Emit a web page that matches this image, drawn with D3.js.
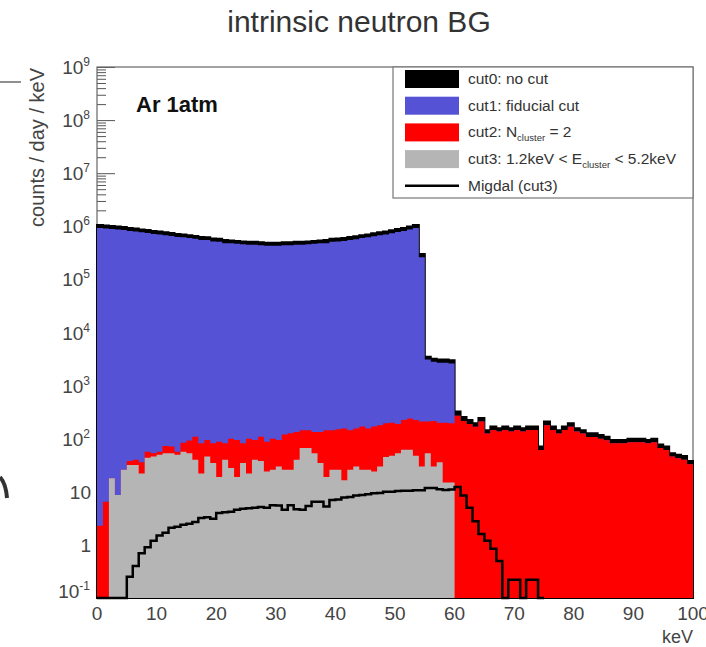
<!DOCTYPE html>
<meta charset="utf-8">
<head>
    <script src="https://d3js.org/d3.v7.min.js"></script>
    <style>
        body { margin: 0; background: white; }
        text { font-family: "Liberation Sans", Arial, Helvetica, sans-serif; }
    </style>
</head>
<body>
<div id="chart"></div>
<script>
    // 1 keV bins, 0..100 keV
    const cut0 = [1.06e6, 1.03e6, 1.01e6, 9.9e5, 9.7e5, 9.3e5, 9.1e5, 8.7e5, 8.5e5, 8.2e5,
        8.0e5, 7.7e5, 7.5e5, 7.2e5, 7.0e5, 6.8e5, 6.6e5, 6.3e5, 6.2e5, 5.9e5,
        5.8e5, 5.5e5, 5.4e5, 5.3e5, 5.2e5, 5.1e5, 5.1e5, 5.0e5, 4.9e5, 4.9e5,
        4.9e5, 5.0e5, 5.0e5, 5.1e5, 5.1e5, 5.2e5, 5.3e5, 5.4e5, 5.5e5, 5.8e5,
        5.9e5, 6.0e5, 6.3e5, 6.5e5, 6.8e5, 7.0e5, 7.4e5, 7.7e5, 8.0e5, 8.4e5,
        8.9e5, 9.3e5, 9.9e5, 1.06e6, 3.0e5, 3.5e3, 3.2e3, 3.1e3, 3.1e3, 3.0e3,
        324, 257, 224, 195, 245, 145, 170, 158, 170, 158,
        170, 158, 170, 170, 71, 210, 170, 145, 170, 195,
        158, 145, 126, 126, 117, 109, 95, 95, 95, 100,
        100, 100, 95, 100, 78, 71, 53, 50, 47, 38];

    const cut1 = [9.3e5, 9.1e5, 8.9e5, 8.7e5, 8.5e5, 8.2e5, 8.0e5, 7.7e5, 7.5e5, 7.2e5,
        7.0e5, 6.8e5, 6.6e5, 6.3e5, 6.2e5, 6.0e5, 5.8e5, 5.5e5, 5.5e5, 5.2e5,
        5.1e5, 4.8e5, 4.8e5, 4.7e5, 4.6e5, 4.5e5, 4.5e5, 4.4e5, 4.3e5, 4.3e5,
        4.3e5, 4.4e5, 4.4e5, 4.5e5, 4.5e5, 4.6e5, 4.7e5, 4.8e5, 4.8e5, 5.1e5,
        5.2e5, 5.3e5, 5.5e5, 5.7e5, 6.0e5, 6.2e5, 6.5e5, 6.8e5, 7.0e5, 7.4e5,
        7.8e5, 8.2e5, 8.7e5, 9.3e5, 2.6e5, 3.1e3, 2.8e3, 2.7e3, 2.7e3, 2.6e3,
        270, 215, 190, 168, 210, 125, 146, 136, 146, 136,
        146, 136, 146, 146, 61, 180, 146, 125, 146, 168,
        136, 125, 108, 108, 100, 94, 82, 82, 82, 86,
        86, 86, 82, 86, 67, 61, 46, 43, 40, 33];

    const cut2 = [2.3, 6.5, 18, 8.7, 26, 38, 40, 36, 57, 53,
        57, 73, 71, 57, 84, 92, 109, 82, 95, 82,
        88, 82, 100, 95, 82, 100, 95, 109, 88, 100,
        95, 120, 126, 133, 145, 145, 133, 133, 145, 145,
        150, 155, 145, 155, 170, 155, 170, 180, 195, 200,
        190, 225, 240, 225, 210, 210, 215, 200, 200, 195,
        270, 215, 190, 168, 210, 125, 146, 136, 146, 136,
        146, 136, 146, 146, 61, 180, 146, 125, 146, 168,
        136, 125, 108, 108, 100, 94, 82, 82, 82, 86,
        86, 86, 82, 86, 67, 61, 46, 43, 40, 33];

    // cut3 only up to 60 keV
    const cut3 = [0, 0, 18, 8.7, 26, 32, 32, 22, 44, 46,
        50, 53, 53, 50, 57, 53, 40, 22, 46, 35,
        19, 40, 28, 19, 35, 22, 40, 38, 24, 26,
        30, 26, 26, 40, 67, 67, 53, 35, 19, 26,
        26, 16.5, 26, 30, 26, 26, 24, 30, 45, 48,
        53, 62, 62, 48, 30, 53, 30, 36, 15, 15];

    const migdal = [0, 0, 0, 0, 0, 0.25, 0.4, 0.7, 0.9, 1.2,
        1.5, 1.7, 2.1, 2.2, 2.4, 2.5, 2.7, 3.2, 3.3, 3.1,
        4.0, 4.1, 4.2, 4.6, 4.8, 4.9, 5.0, 5.2, 5.0, 5.6,
        5.5, 4.6, 5.6, 4.7, 4.6, 5.4, 6.5, 6.5, 5.3, 7.0,
        7.2, 7.8, 8.0, 8.5, 8.7, 9.0, 9.4, 9.5, 10, 10,
        10.3, 10.5, 10.5, 10.7, 10.7, 11.8, 11.8, 11.2, 10.8, 11.0,
        12.3, 8.5, 5.0, 2.8, 1.6, 1.2, 0.85, 0.5, 0, 0.22,
        0.22, 0, 0.22, 0.22, 0];

    const xTicks = [0, 10, 20, 30, 40, 50, 60, 70, 80, 90, 100];
    const yTicks = [0.1, 1, 10, 1e2, 1e3, 1e4, 1e5, 1e6, 1e7, 1e8, 1e9];
    const yTickLabels = [["10", "-1"], ["1", ""], ["10", ""], ["10", "2"], ["10", "3"], ["10", "4"],
        ["10", "5"], ["10", "6"], ["10", "7"], ["10", "8"], ["10", "9"]];

    const legendData = [
        { parts: [["cut0: no cut"]], color: "#000000", type: "box" },
        { parts: [["cut1: fiducial cut"]], color: "#5552d6", type: "box" },
        { parts: [["cut2: N"], ["cluster", "sub"], [" = 2"]], color: "#fe0000", type: "box" },
        { parts: [["cut3: 1.2keV < E"], ["cluster", "sub"], [" < 5.2keV"]], color: "#b5b5b5", type: "box" },
        { parts: [["Migdal (cut3)"]], color: "#000000", type: "line" }
    ];

    const plotLeft = 97, plotRight = 693, plotTop = 67, plotBottom = 598;

    const svg = d3.select("#chart").append("svg")
        .attr("width", 706)
        .attr("height", 647)
        .style("background-color", "white");

    const x = d3.scaleLinear().domain([0, 100]).range([plotLeft, plotRight]);
    const y = d3.scaleLog().domain([0.1, 1e9]).range([plotBottom, plotTop]);

    const yv = v => y(Math.max(v, 0.1));
    const steps = arr => arr.map((v, i) => [i, v]).concat([[arr.length, arr[arr.length - 1]]]);

    // ticks first, histograms cover them
    svg.append("g")
        .attr("transform", `translate(${plotLeft},0)`)
        .call(d3.axisRight(y).tickValues(y.ticks(100).filter(t => !yTicks.includes(t))).tickSize(9).tickSizeOuter(0).tickFormat(""))
        .call(g => g.select(".domain").remove())
        .call(g => g.selectAll("line").attr("stroke", "#555"));

    svg.append("g")
        .attr("transform", `translate(${plotLeft},0)`)
        .call(d3.axisRight(y).tickValues(yTicks).tickSize(18).tickSizeOuter(0).tickFormat(""))
        .call(g => g.select(".domain").remove())
        .call(g => g.selectAll("line").attr("stroke", "#555"));

    svg.append("g")
        .attr("transform", `translate(0,${plotBottom})`)
        .call(d3.axisTop(x).tickValues(xTicks).tickSize(16).tickSizeOuter(0).tickFormat(""))
        .call(g => g.select(".domain").remove())
        .call(g => g.selectAll("line").attr("stroke", "#555"));

    // frame
    svg.append("rect")
        .attr("x", plotLeft).attr("y", plotTop)
        .attr("width", plotRight - plotLeft).attr("height", plotBottom - plotTop)
        .attr("fill", "none")
        .attr("stroke", "#666")
        .attr("stroke-width", 1.2);

    const area = d3.area()
        .x(d => x(d[0]))
        .y0(plotBottom)
        .y1(d => yv(d[1]))
        .curve(d3.curveStepAfter);

    svg.append("path")
        .attr("d", area(steps(cut0)))
        .attr("fill", "#000")
        .attr("stroke", "#000")
        .attr("stroke-width", 2);

    svg.append("path")
        .attr("d", area(steps(cut1)))
        .attr("fill", "#5552d6");

    svg.append("path")
        .attr("d", area(steps(cut2)))
        .attr("fill", "#fe0000");

    svg.append("path")
        .attr("d", area(steps(cut3)))
        .attr("fill", "#b5b5b5");

    const line = d3.line()
        .x(d => x(d[0]))
        .y(d => yv(d[1]))
        .curve(d3.curveStepAfter);

    svg.append("path")
        .attr("d", line(steps(migdal)))
        .attr("fill", "none")
        .attr("stroke", "#000")
        .attr("stroke-width", 2.5);

    // y tick labels
    const yLab = svg.append("g").attr("fill", "#444").attr("font-size", 19);
    yTicks.forEach((t, i) => {
        const [base, sup] = yTickLabels[i];
        const ty = y(t) + 7 - (i === 0 ? 7 : 0);
        const txt = yLab.append("text")
            .attr("x", sup ? 90 : 91)
            .attr("y", ty)
            .attr("text-anchor", "end");
        txt.append("tspan").text(base);
        if (sup) {
            txt.append("tspan").attr("dy", -8).attr("font-size", 12).text(sup);
        }
    });

    // x tick labels
    svg.append("g")
        .selectAll("text")
        .data(xTicks)
        .enter()
        .append("text")
        .attr("x", d => x(d))
        .attr("y", 620)
        .attr("text-anchor", "middle")
        .attr("font-size", 19)
        .attr("fill", "#444")
        .text(d => d);

    svg.append("text")
        .attr("x", plotRight)
        .attr("y", 643)
        .attr("text-anchor", "end")
        .attr("font-size", 18)
        .attr("fill", "#444")
        .text("keV");

    svg.append("text")
        .attr("transform", "translate(44,68) rotate(-90)")
        .attr("text-anchor", "end")
        .attr("font-size", 20)
        .attr("fill", "#444")
        .text("counts / day / keV");

    svg.append("text")
        .attr("x", 359)
        .attr("y", 32)
        .attr("text-anchor", "middle")
        .attr("font-size", 30)
        .attr("fill", "#333")
        .text("intrinsic neutron BG");

    svg.append("text")
        .attr("x", 136)
        .attr("y", 112)
        .attr("font-size", 22)
        .attr("font-weight", "bold")
        .attr("fill", "#111")
        .text("Ar 1atm");

    // legend
    const legend = svg.append("g").attr("class", "legend");
    legend.append("rect")
        .attr("x", 393).attr("y", 67)
        .attr("width", 300).attr("height", 131)
        .attr("fill", "white")
        .attr("stroke", "#777")
        .attr("stroke-width", 1.2);

    legendData.forEach((d, i) => {
        const cy = 79 + i * 26.7;
        if (d.type === "box") {
            legend.append("rect")
                .attr("x", 405).attr("y", cy - 9)
                .attr("width", 54).attr("height", 18)
                .attr("fill", d.color);
        } else {
            legend.append("line")
                .attr("x1", 405).attr("x2", 459)
                .attr("y1", cy).attr("y2", cy)
                .attr("stroke", d.color)
                .attr("stroke-width", 2.5);
        }
        const t = legend.append("text")
            .attr("x", 468)
            .attr("y", cy + 5)
            .attr("font-size", 15.5)
            .attr("fill", "#333");
        d.parts.forEach((p, j) => {
            const s = t.append("tspan").text(p[0]);
            if (p[1] === "sub") s.attr("font-size", 9.5).attr("dy", 4);
            else if (j > 0) s.attr("dy", -4);
        });
    });

    // stray marks at the left edge of the picture
    svg.append("line")
        .attr("x1", 0).attr("x2", 21)
        .attr("y1", 82).attr("y2", 82)
        .attr("stroke", "#444")
        .attr("stroke-width", 1.2);

    svg.append("path")
        .attr("d", "M0,477 Q6,484 7,498")
        .attr("fill", "none")
        .attr("stroke", "#333")
        .attr("stroke-width", 4);
</script>
</body>
